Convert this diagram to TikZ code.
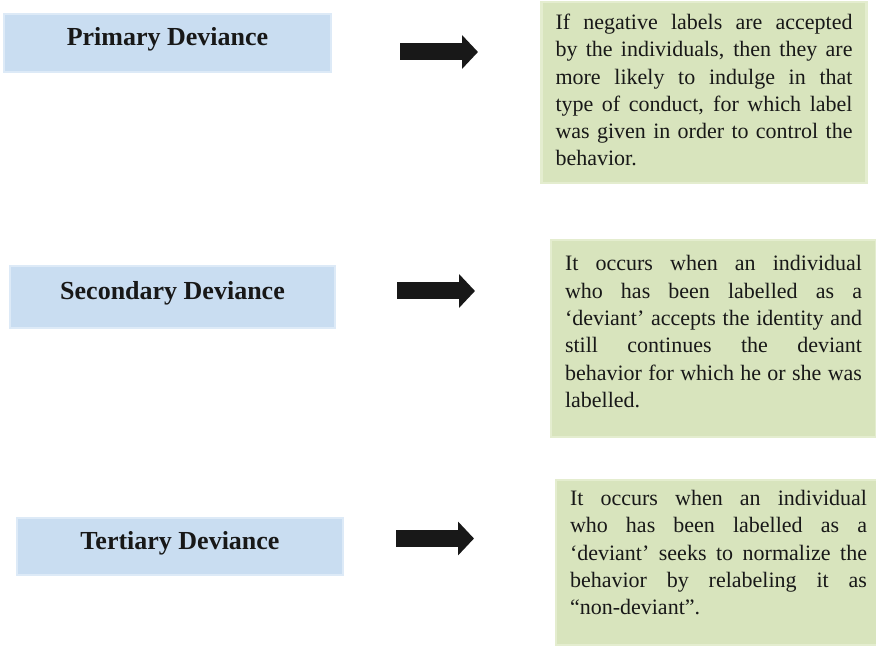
\documentclass[tikz,border=0pt]{standalone}
\usepackage{fontspec}
\setmainfont{Liberation Serif}
\usetikzlibrary{arrows.meta}
\definecolor{titleblue}{RGB}{201,221,241}
\definecolor{titleedge}{RGB}{221,234,247}
\definecolor{notegreen}{RGB}{216,228,189}
\definecolor{noteedge}{RGB}{228,237,207}
\definecolor{inkgrey}{RGB}{24,24,24}
\tolerance=9999 \hbadness=10000
\begin{document}
\begin{tikzpicture}[x=1pt,y=1pt,
  titlebox/.style={draw=titleedge,line width=2.5pt,fill=titleblue,inner sep=0pt,text height=18pt,text depth=13pt,font=\fontsize{26}{30}\selectfont\bfseries,text=inkgrey},
  notebox/.style={draw=noteedge,line width=2.5pt,fill=notegreen,text width=297pt,inner xsep=14pt,inner ysep=0pt,align=justify,font=\fontsize{22}{27.3}\selectfont,text=inkgrey},
  blockarrow/.style={line width=17pt,draw=inkgrey,-{Triangle[length=16pt,width=33pt]}}]
\useasboundingbox (0,0) rectangle (876,646);
% Primary deviance
\node[titlebox,minimum width=327pt,minimum height=58pt] (prim) at (167.5,603) {Primary Deviance};
\node[notebox,minimum height=181pt] (primtxt) at (704,553.5) {If negative labels are accepted\linebreak by the individuals, then they are\linebreak more likely to indulge in that\linebreak type of conduct, for which label\linebreak was given in order to control the\linebreak behavior.\rule[-5pt]{0pt}{5pt}};
\coordinate (pa) at (400,594); \coordinate (pb) at (478,594);
\draw[blockarrow] (pa)--(pb);
% Secondary deviance
\node[titlebox,minimum width=325pt,minimum height=62pt] (sec) at (172.5,349) {Secondary Deviance};
\node[notebox,minimum height=197pt] (sectxt) at (713.5,307.5) {It occurs when an individual\linebreak who has been labelled as a\linebreak ‘deviant’ accepts the identity and\linebreak still continues the deviant\linebreak behavior for which he or she was\linebreak labelled.\rule[-14pt]{0pt}{14pt}};
\coordinate (sa) at (397,355); \coordinate (sb) at (475,355);
\draw[blockarrow] (sa)--(sb);
% Tertiary deviance
\node[titlebox,minimum width=326pt,minimum height=57pt] (tert) at (180,99.5) {Tertiary Deviance};
\node[notebox,minimum height=165pt] (terttxt) at (718.5,83.5) {It occurs when an individual\linebreak who has been labelled as a\linebreak ‘deviant’ seeks to normalize the\linebreak behavior by relabeling it as\linebreak “non-deviant”.\rule[-20pt]{0pt}{20pt}};
\coordinate (ta) at (396,107.5); \coordinate (tb) at (474,107.5);
\draw[blockarrow] (ta)--(tb);
\end{tikzpicture}
\end{document}
